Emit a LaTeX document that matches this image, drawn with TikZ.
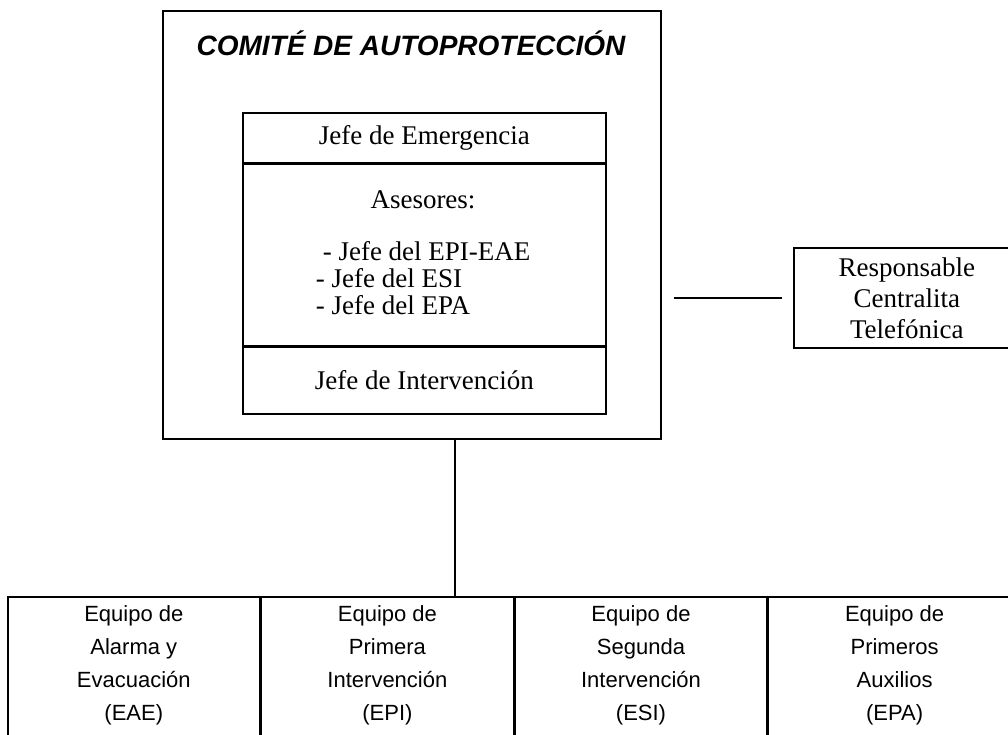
\documentclass[tikz,border=0pt]{standalone}
\usepackage{fontspec}
\setmainfont{Liberation Serif}
\setsansfont{Liberation Sans}
\usetikzlibrary{positioning}

\begin{document}
\begin{tikzpicture}[x=1pt,y=-1pt,line width=1.6pt,
                    box/.style={draw,rectangle,inner sep=0pt,anchor=north west},
                    serif/.style={font=\fontsize{27}{31}\selectfont,align=center,inner sep=0pt},
                    team/.style={font=\sffamily\fontsize{22}{33}\selectfont,align=center,inner sep=0pt,anchor=north}]
    \useasboundingbox (0,0) rectangle (1008,734);

    % comite
    \node[box,minimum width=498,minimum height=428] (comite) at (162,10) {};
    \node[font=\sffamily\bfseries\itshape\fontsize{28}{32}\selectfont] (titulo) at (411,43) {COMITÉ DE AUTOPROTECCIÓN};

    \node[box,serif,minimum width=363,minimum height=50] (jefe) at (242,112) {Jefe de Emergencia};
    \node[box,minimum width=363,minimum height=181] (asesores) at (jefe.south west) {};
    \node[box,serif,minimum width=363,minimum height=67] (interv) at (asesores.south west) {Jefe de Intervención};

    \node[serif] (tasesores) at (423,200) {Asesores:};
    \node[serif,align=left,anchor=north west,font=\fontsize{27}{27}\selectfont] (lista) at (315,241)
        {\hspace{7pt}- Jefe del EPI-EAE\\- Jefe del ESI\\- Jefe del EPA};

    % centralita
    \node[box,serif,minimum width=226,minimum height=100] (centralita) at (793,247)
        {Responsable\\Centralita\\Telefónica};

    % equipos
    \node[box,minimum width=252,minimum height=170] (eae) at (7,596) {};
    \node[box,minimum width=252,minimum height=170] (epi) at (eae.north east) {};
    \node[box,minimum width=252,minimum height=170] (esi) at (epi.north east) {};
    \node[box,minimum width=252,minimum height=170] (epa) at (esi.north east) {};

    \node[team] (teae) at ([yshift=-9pt]eae.north) {Equipo de\\Alarma y\\Evacuación\\(EAE)};
    \node[team] (tepi) at ([yshift=-9pt]epi.north) {Equipo de\\Primera\\Intervención\\(EPI)};
    \node[team] (tesi) at ([yshift=-9pt]esi.north) {Equipo de\\Segunda\\Intervención\\(ESI)};
    \node[team] (tepa) at ([yshift=-9pt]epa.north) {Equipo de\\Primeros\\Auxilios\\(EPA)};

    \coordinate (enlace) at (455,438);
    \draw (enlace) -- (enlace |- epi.north);
    \draw[shorten <=12pt,shorten >=11pt] (comite.east |- centralita.west) -- (centralita.west);
\end{tikzpicture}
\end{document}
